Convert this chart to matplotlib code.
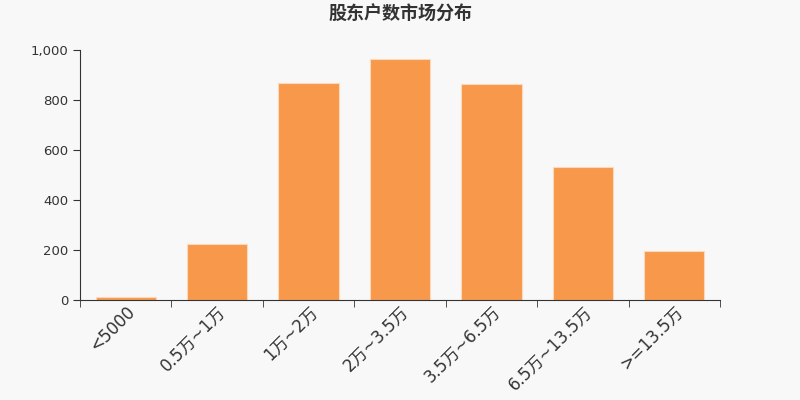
import matplotlib
matplotlib.use('Agg')
import numpy as np
import matplotlib.pyplot as plt
from matplotlib.ticker import FuncFormatter

#DejaVu for latin glyphs, CJK font for the rest
plt.rcParams['font.family'] = ['DejaVu Sans', 'Noto Sans CJK SC']

#Chart data
categories = ['<5000', '0.5万~1万', '1万~2万', '2万~3.5万', '3.5万~6.5万', '6.5万~13.5万', '>=13.5万']
values = [12, 226, 868, 964, 864, 532, 196]

bg = '#f8f8f8'
fig = plt.figure(figsize=(8, 4), dpi=100, facecolor=bg)
ax = fig.add_axes([0.1, 0.25, 0.8, 0.625], facecolor=bg)

x = np.arange(len(categories))
ax.bar(x, values, width=0.66, color='#f7984a', edgecolor='#fbd9bd', linewidth=0.8)

ax.set_xlim(-0.5, len(categories) - 0.5)
ax.set_ylim(0, 1000)
ax.set_yticks([0, 200, 400, 600, 800, 1000])
ax.yaxis.set_major_formatter(FuncFormatter(lambda v, p: f'{int(v):,}'))

#labels at bar centers, ticks at category boundaries
ax.set_xticks(x)
ax.set_xticklabels(categories, rotation=45, ha='right', rotation_mode='anchor', fontsize=12, color='#333333')
ax.set_xticks(np.arange(-0.5, len(categories)), minor=True)
ax.tick_params(axis='x', which='major', length=0, pad=2)
ax.tick_params(axis='x', which='minor', length=5, color='#333333')
ax.tick_params(axis='y', length=5, color='#333333', labelsize=9.5, labelcolor='#333333')

for s in ['top', 'right']:
    ax.spines[s].set_visible(False)
for s in ['left', 'bottom']:
    ax.spines[s].set_color('#333333')

fig.text(0.5, 0.965, '股东户数市场分布', ha='center', va='center', fontsize=13, fontweight='bold',
         color='#333333', family=['Noto Sans CJK SC', 'DejaVu Sans'])

fig.savefig('out.png', dpi=100, facecolor=bg)
